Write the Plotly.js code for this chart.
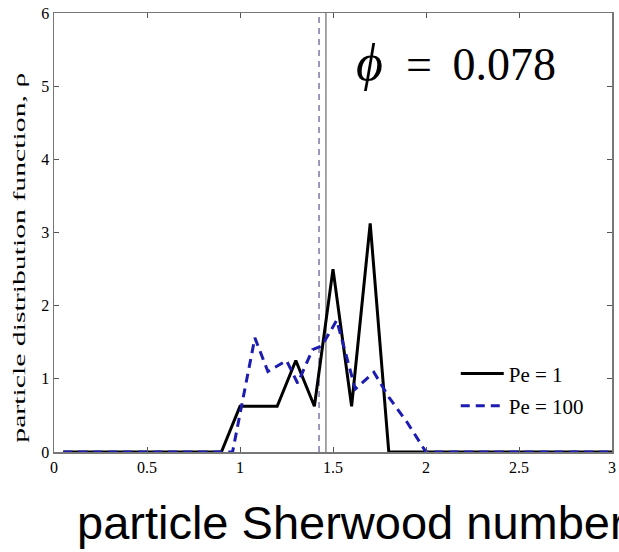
<!DOCTYPE html>
<html>
<head>
<meta charset="utf-8">
<script src="https://cdn.plot.ly/plotly-3.0.1.min.js"></script>
<style>html,body{margin:0;padding:0;background:#fff;}</style>
</head>
<body>
<div id="chart" style="width:619px;height:552px;"></div>
<script>
// Pe = 1 (solid black)
const pe1X = [0.05, 0.9, 1.0, 1.2, 1.3, 1.4, 1.5, 1.6, 1.7, 1.8, 3.0];
const pe1Y = [0, 0, 0.625, 0.625, 1.25, 0.625, 2.5, 0.625, 3.125, 0, 0];
// Pe = 100 (dashed blue)
const pe100X = [0.05, 0.96, 1.08, 1.15, 1.25, 1.31, 1.39, 1.44, 1.52, 1.62, 1.72, 1.8, 1.9, 2.0, 3.0];
const pe100Y = [0, 0, 1.56, 1.1, 1.25, 0.94, 1.4, 1.45, 1.8, 0.86, 1.09, 0.75, 0.4, 0, 0];
// mean markers
const meanPe1 = 1.462;
const meanPe100 = 1.425;
const yRange = [0, 6];
const xTickVals = [0, 0.5, 1, 1.5, 2, 2.5, 3];
const xTickText = ["0", "0.5", "1", "1.5", "2", "2.5", "3"];
const yTickVals = [0, 1, 2, 3, 4, 5, 6];
const yTickText = ["0", "1", "2", "3", "4", "5", "6"];
const legendNames = ["Pe = 1", "Pe = 100"];

const serif = "Liberation Serif, Times New Roman, serif";

const traces = [
  {x: [meanPe100, meanPe100], y: yRange, mode: 'lines', showlegend: false, hoverinfo: 'skip',
   line: {color: '#7a7aa8', width: 1.5, dash: '6px,5px'}},
  {x: [meanPe1, meanPe1], y: yRange, mode: 'lines', showlegend: false, hoverinfo: 'skip',
   line: {color: '#6a6a6a', width: 1.2}},
  {x: pe1X, y: pe1Y, mode: 'lines', name: legendNames[0], legendgroup: 'a',
   line: {color: '#000000', width: 3}},
  {x: pe100X, y: pe100Y, mode: 'lines', name: legendNames[1], legendgroup: 'b',
   line: {color: '#1c1cb0', width: 3, dash: '9px,6px'}}
];

const axisCommon = {
  showline: true, linecolor: '#777777', linewidth: 1.5, mirror: 'ticks',
  ticks: 'inside', ticklen: 5, tickcolor: '#555555', tickwidth: 1,
  showgrid: false, zeroline: false,
  tickfont: {family: serif, size: 16, color: '#000'}
};

const layout = {
  width: 619, height: 552,
  margin: {l: 54, r: 7, t: 13, b: 100},
  paper_bgcolor: '#fff', plot_bgcolor: '#fff',
  showlegend: true,
  xaxis: Object.assign({}, axisCommon, {range: [0, 3], tickvals: xTickVals, ticktext: xTickText}),
  yaxis: Object.assign({}, axisCommon, {range: [0, 6], tickvals: yTickVals, ticktext: yTickText}),
  legend: {x: 0.72, y: 0.225, xanchor: 'left', yanchor: 'top', bgcolor: 'rgba(0,0,0,0)',
           font: {family: serif, size: 21, color: '#000'}, tracegroupgap: 2, traceorder: 'grouped',
           itemwidth: 43},
  annotations: [
    {xref: 'paper', yref: 'paper', x: 0.903, y: 0.888, xanchor: 'right', yanchor: 'middle', showarrow: false,
     text: '<i><span style="font-size:52px">ϕ</span></i>\u00A0\u00A0=\u00A0\u20090.078', font: {family: serif, size: 46, color: '#000'}},
    {xref: 'paper', yref: 'paper', x: -0.061, y: 0.443, xanchor: 'center', yanchor: 'middle', showarrow: false,
     textangle: -90, text: 'particle distribution function, ρ', font: {family: serif, size: 17, color: '#000'}},
    {xref: 'paper', yref: 'paper', x: 0.038, y: -0.16, xanchor: 'left', yanchor: 'middle', showarrow: false,
     text: 'particle Sherwood number', font: {family: 'Liberation Sans, Arial, sans-serif', size: 47, color: '#000'}}
  ]
};

Plotly.newPlot('chart', traces, layout, {displayModeBar: false, staticPlot: true}).then(function (gd) {
  // stretch the y-axis title along its length, like the reference
  const anns = gd.querySelectorAll('.annotation');
  if (anns[1]) {
    const t = anns[1].querySelector('text.annotation-text');
    if (t) {
      const b = t.getBBox();
      const cx = b.x + b.width / 2, cy = b.y + b.height / 2;
      t.setAttribute('transform', 'translate(' + cx + ',' + cy + ') scale(1.75,1) translate(' + (-cx) + ',' + (-cy) + ')');
    }
  }
  // longer legend line samples
  gd.querySelectorAll('.legend .traces').forEach(function (tr) {
    const p = tr.querySelector('.legendlines path');
    if (p) p.setAttribute('d', 'M5,0h43');
  });
});
</script>
</body>
</html>
